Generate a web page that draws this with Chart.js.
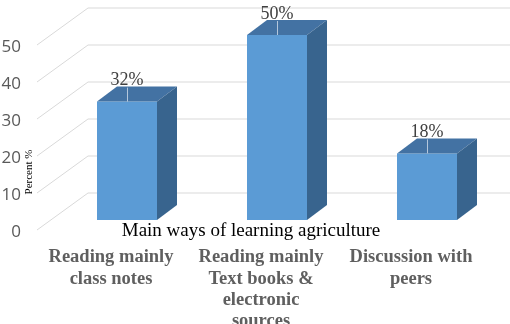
<!DOCTYPE html>
<html>
<head>
<meta charset="utf-8">
<script src="https://cdn.jsdelivr.net/npm/chart.js@4.4.1/dist/chart.umd.min.js"></script>
<style>
  html, body { margin: 0; padding: 0; background: #ffffff; }
  #wrap { width: 510px; height: 324px; position: relative; }
</style>
</head>
<body>
<div id="wrap"><canvas id="chart"></canvas></div>
<script>
// chart data
const categories = [
    ["Reading mainly", "class notes"],
    ["Reading mainly", "Text books &", "electronic", "sources"],
    ["Discussion with", "peers"],
];
const percentValues = [32, 50, 18];
const valueLabels = ["32%", "50%", "18%"];
const yTicks = [0, 10, 20, 30, 40, 50];
const xTitle = "Main ways of learning agriculture";
const yTitle = "Percent %";

const FRONT = "#5b9bd5";
const TOP = "#4372a3";
const SIDE = "#38648e";
const GRID = "#d9d9d9";

// depth offsets of the fake 3d look
const barDepth = { dx: 20, dy: -15 };
const wall = { frontX: 37, frontDy: 10, backX: 88, backDy: -27 };

const wallPlugin = {
    id: "wall3d",
    beforeDatasetsDraw(chart) {
        const ctx = chart.ctx;
        const y = chart.scales.y;
        ctx.save();
        ctx.strokeStyle = GRID;
        ctx.lineWidth = 1;
        yTicks.forEach(v => {
            const p = y.getPixelForValue(v);
            ctx.beginPath();
            ctx.moveTo(wall.frontX, p + wall.frontDy);
            ctx.lineTo(wall.backX, p + wall.backDy);
            ctx.lineTo(chart.width, p + wall.backDy);
            ctx.stroke();
        });
        ctx.restore();
    },
    afterDatasetsDraw(chart) {
        const ctx = chart.ctx;
        const meta = chart.getDatasetMeta(0);
        ctx.save();
        meta.data.forEach((bar, i) => {
            const x1 = bar.x - bar.width / 2;
            const x2 = bar.x + bar.width / 2;
            const top = bar.y;
            const base = bar.base;
            const dx = barDepth.dx, dy = barDepth.dy;

            // top face
            ctx.fillStyle = TOP;
            ctx.beginPath();
            ctx.moveTo(x1, top);
            ctx.lineTo(x2, top);
            ctx.lineTo(x2 + dx, top + dy);
            ctx.lineTo(x1 + dx, top + dy);
            ctx.closePath();
            ctx.fill();

            // side face
            ctx.fillStyle = SIDE;
            ctx.beginPath();
            ctx.moveTo(x2, top);
            ctx.lineTo(x2 + dx, top + dy);
            ctx.lineTo(x2 + dx, base + dy);
            ctx.lineTo(x2, base);
            ctx.closePath();
            ctx.fill();

            // leader line + value label
            const ly = top - 21;
            ctx.strokeStyle = "#b4c7dc";
            ctx.lineWidth = 1;
            ctx.beginPath();
            ctx.moveTo(bar.x + 0.5, ly + 7);
            ctx.lineTo(bar.x + 0.5, top);
            ctx.stroke();

            ctx.fillStyle = "#404040";
            ctx.font = "18px 'Liberation Serif', serif";
            ctx.textAlign = "center";
            ctx.textBaseline = "middle";
            ctx.fillText(valueLabels[i], bar.x, ly);
        });

        // axis titles
        ctx.fillStyle = "#000000";
        ctx.font = "19px 'Liberation Serif', serif";
        ctx.textAlign = "center";
        ctx.textBaseline = "middle";
        ctx.fillText(xTitle, 251, 231);

        ctx.save();
        ctx.translate(29, 172);
        ctx.rotate(-Math.PI / 2);
        ctx.font = "11px 'Liberation Serif', serif";
        ctx.fillText(yTitle, 0, 0);
        ctx.restore();

        ctx.restore();
    },
};

const chart = new Chart(document.getElementById("chart"), {
    type: "bar",
    data: {
        labels: categories,
        datasets: [
            {
                data: percentValues,
                backgroundColor: FRONT,
                borderWidth: 0,
                barPercentage: 0.4,
                categoryPercentage: 1,
            },
        ],
    },
    options: {
        responsive: true,
        maintainAspectRatio: false,
        animation: false,
        layout: { padding: { top: 35, right: 8, left: 0, bottom: 0 } },
        plugins: {
            legend: { display: false },
            tooltip: { enabled: false },
        },
        scales: {
            x: {
                grid: { display: false, drawTicks: false },
                border: { display: false },
                ticks: {
                    color: "#5f5f5f",
                    font: { family: "'Liberation Serif', serif", size: 18.5, weight: "bold", lineHeight: 1.15 },
                    padding: 27,
                    labelOffset: -16,
                    maxRotation: 0,
                    autoSkip: false,
                },
                afterFit(scale) {
                    scale.height = 104;
                    scale.paddingLeft = 0;
                    scale.paddingRight = 0;
                },
            },
            y: {
                min: 0,
                max: 50,
                grid: { display: false, drawTicks: false },
                border: { display: false },
                ticks: {
                    stepSize: 10,
                    color: "#595959",
                    font: { family: "'Open Sans', sans-serif", size: 17 },
                    padding: 31,
                    labelOffset: 12,
                },
                afterFit(scale) {
                    scale.width = 52;
                    scale.paddingTop = 0;
                    scale.paddingBottom = 0;
                },
            },
        },
    },
    plugins: [wallPlugin],
});
</script>
</body>
</html>
